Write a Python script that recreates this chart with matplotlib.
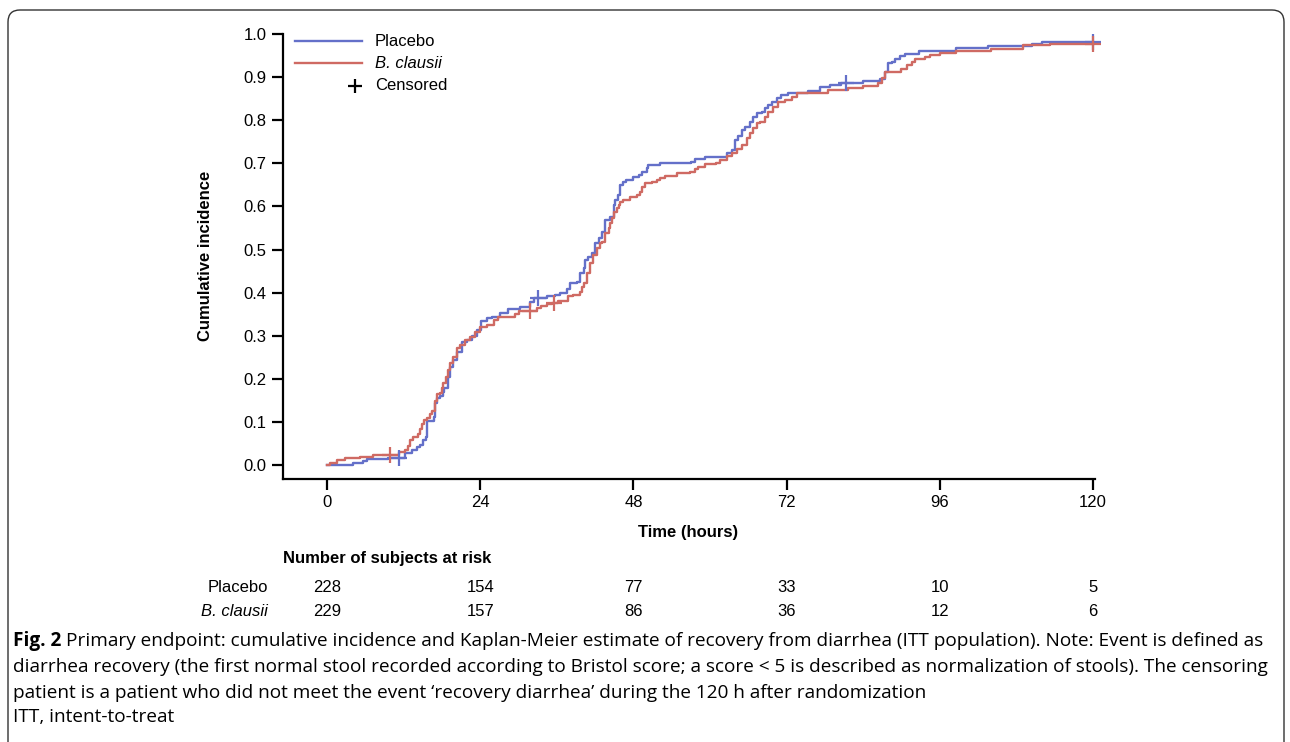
import numpy as np
import matplotlib
matplotlib.use('Agg')
import matplotlib.pyplot as plt
from matplotlib.patches import FancyBboxPatch
from matplotlib.lines import Line2D
import matplotlib.transforms as mtransforms

# Kaplan-Meier step points (hours, cumulative incidence)
placebo_t = [0, 4.1, 5.7, 6.2, 9.6, 12.2, 13.3, 14.1, 14.6, 15.1, 15.5, 15.7, 16.7, 16.9, 17.2,
             17.7, 18.1, 18.3, 19.0, 19.3, 19.8, 20.3, 21.1, 21.9, 22.7, 23.5, 24.2, 25.0, 25.8,
             27.1, 28.4, 30.2, 31.8, 32.5, 34.4, 35.7, 36.5, 37.6, 38.1, 39.1, 39.6, 40.2, 40.4,
             40.9, 41.5, 42.0, 42.6, 43.1, 43.6, 44.4, 44.9, 45.1, 45.6, 45.9, 46.4, 46.9, 48.0,
             48.8, 49.3, 50.1, 50.3, 52.2, 57.1, 57.7, 59.2, 62.6, 63.4, 63.9, 64.4, 65.0, 65.5,
             66.3, 66.8, 67.3, 68.1, 68.6, 69.1, 69.7, 70.5, 71.2, 72.3, 75.4, 77.2, 78.8, 80.5,
             84.0, 86.6, 87.4, 87.9, 88.5, 89.0, 89.8, 90.5, 92.8, 98.6, 103.6, 110.4, 112.0, 120.0]
placebo_v = [0, 0.005, 0.010, 0.014, 0.017, 0.029, 0.035, 0.041, 0.046, 0.058, 0.064, 0.103, 0.112,
             0.143, 0.155, 0.160, 0.170, 0.178, 0.205, 0.228, 0.244, 0.263, 0.286, 0.290, 0.299,
             0.313, 0.333, 0.340, 0.343, 0.352, 0.362, 0.367, 0.379, 0.387, 0.391, 0.394, 0.400,
             0.408, 0.422, 0.425, 0.445, 0.456, 0.476, 0.483, 0.491, 0.514, 0.526, 0.541, 0.568,
             0.576, 0.603, 0.615, 0.626, 0.650, 0.657, 0.661, 0.669, 0.673, 0.680, 0.688, 0.696,
             0.700, 0.704, 0.709, 0.715, 0.724, 0.730, 0.754, 0.764, 0.777, 0.785, 0.797, 0.808,
             0.816, 0.820, 0.828, 0.835, 0.843, 0.851, 0.858, 0.862, 0.868, 0.876, 0.882, 0.886,
             0.890, 0.896, 0.912, 0.932, 0.936, 0.941, 0.948, 0.953, 0.960, 0.968, 0.973, 0.977,
             0.982, 0.982]

clausii_t = [0, 0.5, 1.5, 2.8, 5.2, 7.2, 11.2, 12.2, 12.7, 13.0, 13.4, 14.3, 14.6, 14.9, 15.2, 15.6,
             16.1, 16.4, 16.9, 17.3, 17.7, 18.0, 18.2, 18.6, 19.0, 19.3, 19.8, 20.3, 20.8, 21.6,
             22.4, 23.2, 24.0, 25.0, 26.1, 26.8, 29.5, 30.0, 32.9, 33.6, 34.4, 35.2, 36.2, 37.8,
             38.6, 39.6, 39.9, 40.2, 40.7, 41.2, 41.7, 42.3, 42.8, 43.1, 43.6, 44.1, 44.4, 44.7,
             44.9, 45.4, 45.7, 45.9, 46.4, 47.5, 48.5, 49.0, 49.3, 49.8, 50.9, 51.7, 52.2, 52.9,
             54.8, 56.9, 57.7, 58.2, 59.2, 61.0, 61.6, 62.6, 63.4, 64.2, 65.0, 65.8, 66.3, 66.8,
             67.3, 67.8, 68.6, 69.1, 69.9, 70.7, 71.7, 72.8, 73.6, 78.5, 81.7, 84.0, 86.4, 86.9,
             87.4, 90.0, 90.8, 91.6, 92.1, 93.7, 94.5, 96.0, 98.6, 104.1, 109.1, 113.3, 120.0]
clausii_v = [0, 0.005, 0.011, 0.016, 0.019, 0.023, 0.031, 0.034, 0.044, 0.058, 0.066, 0.071, 0.083,
             0.096, 0.104, 0.110, 0.119, 0.125, 0.148, 0.164, 0.168, 0.179, 0.191, 0.205, 0.220,
             0.236, 0.251, 0.271, 0.278, 0.290, 0.298, 0.309, 0.321, 0.325, 0.336, 0.344, 0.350,
             0.358, 0.364, 0.369, 0.374, 0.377, 0.381, 0.391, 0.394, 0.402, 0.414, 0.422, 0.445,
             0.468, 0.487, 0.503, 0.514, 0.518, 0.538, 0.549, 0.561, 0.572, 0.588, 0.596, 0.603,
             0.611, 0.616, 0.623, 0.626, 0.634, 0.646, 0.654, 0.657, 0.661, 0.665, 0.671, 0.678,
             0.680, 0.686, 0.691, 0.698, 0.700, 0.708, 0.716, 0.725, 0.733, 0.742, 0.758, 0.770,
             0.781, 0.793, 0.797, 0.808, 0.820, 0.831, 0.843, 0.847, 0.855, 0.864, 0.869, 0.874,
             0.879, 0.886, 0.897, 0.912, 0.918, 0.928, 0.936, 0.941, 0.947, 0.952, 0.956, 0.961,
             0.966, 0.974, 0.978, 0.978]

placebo_censor = [11.3, 33.1, 81.3, 120.0]
clausii_censor = [9.9, 31.8, 35.6, 120.0]

risk_times = [0, 24, 48, 72, 96, 120]
risk_placebo = [228, 154, 77, 33, 10, 5]
risk_clausii = [229, 157, 86, 36, 12, 6]

blue = '#6470c9'
red = '#cf6a63'
fs = 12

W, H = 1290, 742
plt.rcParams['font.family'] = ['Liberation Sans', 'DejaVu Sans']

fig = plt.figure(figsize=(W / 100, H / 100), dpi=100)


def fx(x):
    return x / W


def fy(y):
    return 1 - y / H


# axes placed so that 0h -> x=327, 120h -> x=1093, 0.0 -> y=465, 1.0 -> y=34
ax = fig.add_axes([283 / W, (H - 478.8) / H, 822.7 / W, 453.4 / H])
ax.set_xlim(-6.9, 122)
ax.set_ylim(-0.032, 1.02)


def at(times, steps_t, steps_v):
    idx = np.searchsorted(steps_t, times, side='right') - 1
    return np.array(steps_v)[idx]


ax.step(placebo_t, placebo_v, where='post', color=blue, lw=1.7)
ax.step(clausii_t, clausii_v, where='post', color=red, lw=1.7)
ax.plot(placebo_censor, at(placebo_censor, placebo_t, placebo_v), '+', color=blue,
        ms=11, mew=1.6)
ax.plot(clausii_censor, at(clausii_censor, clausii_t, clausii_v), '+', color=red,
        ms=11, mew=1.6)

for s in ['top', 'right']:
    ax.spines[s].set_visible(False)
for s in ['left', 'bottom']:
    ax.spines[s].set_linewidth(1.6)
ax.spines['left'].set_bounds(-0.032, 1.0)
ax.spines['bottom'].set_bounds(-6.9, 120.3)
ax.set_xticks(risk_times)
ax.set_yticks(np.arange(0, 1.01, 0.1))
ax.set_yticklabels([f'{v:.1f}' for v in np.arange(0, 1.01, 0.1)])
ax.tick_params(length=8, width=1.6, labelsize=fs, pad=4)

# axis titles
fig.text(fx(688), fy(533), 'Time (hours)', ha='center', va='center',
         fontsize=fs, fontweight='bold')
fig.text(fx(205), fy(256), 'Cumulative incidence', ha='center', va='center',
         rotation=90, fontsize=fs, fontweight='bold')

# legend
for yy, col, lab, st in [(41, blue, 'Placebo', 'normal'), (63, red, 'B. clausii', 'italic')]:
    fig.add_artist(Line2D([fx(295), fx(362)], [fy(yy), fy(yy)], color=col, lw=1.7,
                          transform=fig.transFigure))
    fig.text(fx(375), fy(yy), lab, ha='left', va='center', fontsize=fs, style=st)
fig.add_artist(Line2D([fx(355)], [fy(86)], marker='+', color='black', ms=10, mew=1.6,
                      transform=fig.transFigure))
fig.text(fx(375), fy(86), 'Censored', ha='left', va='center', fontsize=fs)

# number at risk table
fig.text(fx(283), fy(559), 'Number of subjects at risk', ha='left', va='center',
         fontsize=fs, fontweight='bold')
fig.text(fx(268), fy(588), 'Placebo', ha='right', va='center', fontsize=fs)
fig.text(fx(268), fy(612), 'B. clausii', ha='right', va='center', fontsize=fs, style='italic')
tr = mtransforms.blended_transform_factory(ax.transData, fig.transFigure)
for t, a, b in zip(risk_times, risk_placebo, risk_clausii):
    fig.text(t, fy(588), str(a), ha='center', va='center', fontsize=fs, transform=tr)
    fig.text(t, fy(612), str(b), ha='center', va='center', fontsize=fs, transform=tr)

# frame of the figure panel
frame = FancyBboxPatch((8 / 100, -0.2), (1284 - 8) / 100, (H - 10) / 100 + 0.2,
                       boxstyle='round,pad=0,rounding_size=0.12',
                       transform=fig.dpi_scale_trans, fill=False, ec='#333333', lw=1.0)
fig.add_artist(frame)

# caption
cap_font = dict(fontsize=13.65, family=['Open Sans', 'DejaVu Sans'], va='center', ha='left')
bold = fig.text(fx(13), fy(641), 'Fig. 2', fontweight='bold', **cap_font)
fig.canvas.draw()
bb = bold.get_window_extent()
fig.text((bb.x1 + 5) / W, fy(641),
         'Primary endpoint: cumulative incidence and Kaplan-Meier estimate of recovery from '
         'diarrhea (ITT population). Note: Event is defined as', **cap_font)
fig.text(fx(13), fy(667),
         'diarrhea recovery (the first normal stool recorded according to Bristol score; '
         'a score < 5 is described as normalization of stools). The censoring', **cap_font)
fig.text(fx(13), fy(693),
         'patient is a patient who did not meet the event \u2018recovery diarrhea\u2019 '
         'during the 120 h after randomization', **cap_font)
fig.text(fx(13), fy(717), 'ITT, intent-to-treat', **cap_font)

fig.savefig('out.png', dpi=100)
